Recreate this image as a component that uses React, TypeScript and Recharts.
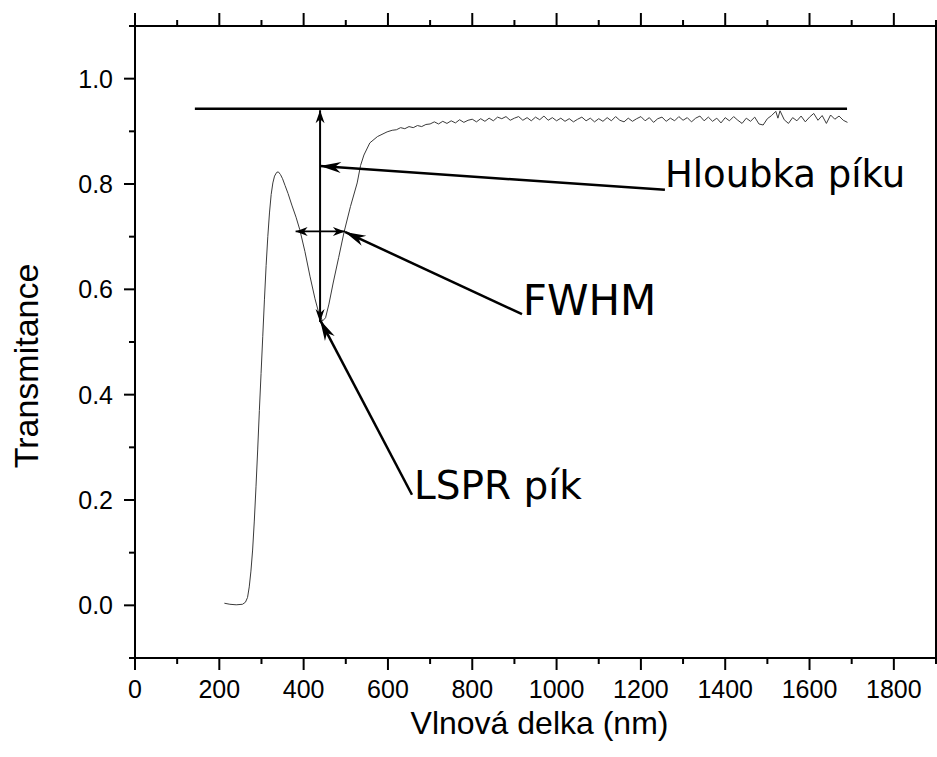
import React from 'react';
import { LineChart, Line, XAxis, YAxis, ReferenceLine, ReferenceDot } from 'recharts';

// Spectrum (wavelength nm, transmittance)
const wavelength = [
  212, 225, 240, 255, 262, 267, 271, 275, 279, 283, 287, 291, 295, 299, 303, 307, 311, 315, 319, 323,
  327, 331, 336, 340, 345, 350, 356, 363, 372, 382, 391, 403, 415, 427, 436, 445, 452, 460, 470, 483,
  496, 511, 527, 535, 543, 557, 575, 598, 610, 620, 630, 640, 650, 660, 670, 680, 690,
  700, 710, 720, 730, 740, 750, 760, 770, 780, 790, 800, 810, 820, 830, 840, 850, 860, 870, 880, 890,
  900, 910, 920, 930, 940, 950, 960, 970, 980, 990, 1000, 1010, 1020, 1030, 1040, 1050, 1060, 1070, 1080, 1090,
  1100, 1110, 1120, 1130, 1140, 1150, 1160, 1170, 1180, 1190, 1200, 1210, 1220, 1230, 1240, 1250, 1260, 1270, 1280, 1290,
  1300, 1310, 1320, 1330, 1340, 1350, 1360, 1370, 1380, 1390, 1400, 1410, 1420, 1430, 1440, 1450, 1460, 1470, 1480, 1490,
  1500, 1510, 1520, 1525, 1530, 1540, 1550, 1560, 1570, 1580, 1590, 1600, 1610, 1620, 1630, 1640, 1650, 1660, 1670, 1680, 1690,
];
const transmittance = [
  0.004, 0.002, 0.001, 0.002, 0.006, 0.015, 0.035, 0.065, 0.105, 0.16, 0.225, 0.295, 0.37, 0.44, 0.51, 0.58, 0.645, 0.70, 0.745, 0.78,
  0.802, 0.815, 0.822, 0.823, 0.818, 0.81, 0.797, 0.782, 0.760, 0.737, 0.713, 0.672, 0.625, 0.582, 0.555, 0.54, 0.546, 0.572, 0.612, 0.66,
  0.709, 0.757, 0.802, 0.835, 0.855, 0.878, 0.89, 0.899, 0.902, 0.903, 0.907, 0.905, 0.909, 0.907, 0.911, 0.909, 0.913,
  0.914, 0.918, 0.914, 0.919, 0.915, 0.920, 0.916, 0.922, 0.917, 0.921, 0.923, 0.918, 0.924, 0.919, 0.925, 0.920, 0.927, 0.924, 0.928, 0.921,
  0.925, 0.928, 0.921, 0.926, 0.920, 0.927, 0.922, 0.929, 0.921, 0.926, 0.920, 0.925, 0.919, 0.924, 0.918, 0.923, 0.927, 0.920, 0.925, 0.918,
  0.924, 0.919, 0.926, 0.920, 0.928, 0.921, 0.918, 0.925, 0.919, 0.924, 0.928, 0.920, 0.926, 0.917, 0.924, 0.927, 0.919, 0.925, 0.920, 0.928,
  0.921, 0.926, 0.918, 0.925, 0.929, 0.920, 0.927, 0.919, 0.925, 0.916, 0.926, 0.920, 0.928, 0.921, 0.915, 0.925, 0.919, 0.927, 0.914, 0.912,
  0.924, 0.930, 0.938, 0.925, 0.939, 0.922, 0.915, 0.926, 0.920, 0.929, 0.918, 0.927, 0.934, 0.921, 0.930, 0.915, 0.931, 0.923, 0.929, 0.921, 0.917,
];

const xTicks = [0, 100, 200, 300, 400, 500, 600, 700, 800, 900, 1000, 1100, 1200, 1300, 1400, 1500, 1600, 1700, 1800, 1900];
const yTicks = [-0.1, 0, 0.1, 0.2, 0.3, 0.4, 0.5, 0.6, 0.7, 0.8, 0.9, 1.0, 1.1];

const xTitle = 'Vlnová delka (nm)';
const yTitle = 'Transmitance';

// Annotation anchors in data units
const baselineLevel = 0.943;
const baselineFrom = 142;
const baselineTo = 1689;
const peakX = 439;
const peakTop = 0.94;
const peakBottom = 0.538;
const fwhmLevel = 0.71;
const fwhmFrom = 381;
const fwhmTo = 498;

const annotations = [
  { text: 'Hloubka píku', tx: 1257, ty: 0.794, fromX: 1257, fromY: 0.789, toX: 439, toY: 0.834, size: 37 },
  { text: 'FWHM', tx: 920, ty: 0.551, fromX: 918, fromY: 0.553, toX: 498, toY: 0.709, size: 42 },
  { text: 'LSPR pík', tx: 662, ty: 0.202, fromX: 657, fromY: 0.21, toX: 439, toY: 0.542, size: 39 },
];

const data = wavelength.map((w, i) => ({ w, t: transmittance[i] }));

const TICK_FONT = 'Liberation Sans, Arial, sans-serif';
const ANN_FONT = 'DejaVu Sans, Verdana, sans-serif';

function head(tx: number, ty: number, fx: number, fy: number, len: number, half: number) {
  const dx = tx - fx;
  const dy = ty - fy;
  const d = Math.sqrt(dx * dx + dy * dy) || 1;
  const ux = dx / d;
  const uy = dy / d;
  const bx = tx - ux * len;
  const by = ty - uy * len;
  const nx = bx + ux * len * 0.3;
  const ny = by + uy * len * 0.3;
  const px = -uy;
  const py = ux;
  return `${tx},${ty} ${bx + px * half},${by + py * half} ${nx},${ny} ${bx - px * half},${by - py * half}`;
}

const makeArrow = (both: boolean, len: number, half: number, width: number) => (p: any) => {
  const { x1, y1, x2, y2 } = p;
  if ([x1, y1, x2, y2].some((v) => typeof v !== 'number' || isNaN(v))) return <g />;
  return (
    <g>
      <line x1={x1} y1={y1} x2={x2} y2={y2} stroke="#000" strokeWidth={width} />
      <polygon points={head(x2, y2, x1, y1, len, half)} fill="#000" />
      {both && <polygon points={head(x1, y1, x2, y2, len, half)} fill="#000" />}
    </g>
  );
};

const BottomTick = (props: any) => {
  const { x, y, payload } = props;
  const major = payload.value % 200 === 0;
  return (
    <g>
      <line x1={x} y1={y} x2={x} y2={y + (major ? 12 : 6)} stroke="#000" strokeWidth={2} />
      {major && (
        <text x={x} y={y + 40} textAnchor="middle" fontFamily={TICK_FONT} fontSize={25} fill="#000">
          {payload.value}
        </text>
      )}
    </g>
  );
};

const TopTick = (props: any) => {
  const { x, y, payload } = props;
  const major = payload.value % 200 === 0;
  return <line x1={x} y1={y} x2={x} y2={y - (major ? 13 : 6)} stroke="#000" strokeWidth={2} />;
};

const LeftTick = (props: any) => {
  const { x, y, payload } = props;
  const tenths = Math.round(payload.value * 10);
  const major = tenths % 2 === 0 && tenths >= 0 && tenths <= 10;
  return (
    <g>
      <line x1={x} y1={y} x2={x - (major ? 11 : 6)} y2={y} stroke="#000" strokeWidth={2} />
      {major && (
        <text x={x - 22} y={y} dy={9} textAnchor="end" fontFamily={TICK_FONT} fontSize={25} fill="#000">
          {(tenths / 10).toFixed(1)}
        </text>
      )}
    </g>
  );
};

const XTitle = (p: any) => {
  const vb = p && p.viewBox ? p.viewBox : { x: 135, y: 658, width: 801, height: 99 };
  return (
    <text x={vb.x + vb.width / 2 + 4} y={vb.y + 76} textAnchor="middle" fontFamily={TICK_FONT} fontSize={32} fill="#000">
      {xTitle}
    </text>
  );
};

const YTitle = (p: any) => {
  const vb = p && p.viewBox ? p.viewBox : { x: 0, y: 26, width: 135, height: 632 };
  const cx = vb.x + 38;
  const cy = vb.y + vb.height / 2 + 24;
  return (
    <text x={cx} y={cy} transform={`rotate(-90, ${cx}, ${cy})`} textAnchor="middle" fontFamily={TICK_FONT} fontSize={34} fill="#000">
      {yTitle}
    </text>
  );
};

export default function App() {
  return (
    <div style={{ position: 'absolute', left: 0, top: 0, width: 937, height: 757, background: '#fff' }}>
      <LineChart width={937} height={757} data={data} margin={{ top: 0, right: 0, bottom: 0, left: 0 }}>
        <XAxis
          dataKey="w"
          type="number"
          domain={[0, 1900]}
          ticks={xTicks}
          interval={0}
          height={99}
          tickSize={0}
          tickMargin={0}
          tickLine={false}
          tick={<BottomTick />}
          axisLine={{ stroke: '#000', strokeWidth: 2 }}
          allowDataOverflow
          label={{ content: XTitle }}
        />
        <XAxis
          xAxisId="top"
          orientation="top"
          dataKey="w"
          type="number"
          domain={[0, 1900]}
          ticks={xTicks}
          interval={0}
          height={26}
          tickSize={0}
          tickMargin={0}
          tickLine={false}
          tick={<TopTick />}
          axisLine={{ stroke: '#000', strokeWidth: 2 }}
          allowDataOverflow
        />
        <YAxis
          type="number"
          domain={[-0.1, 1.1]}
          ticks={yTicks}
          interval={0}
          width={135}
          tickSize={0}
          tickMargin={0}
          tickLine={false}
          tick={<LeftTick />}
          axisLine={{ stroke: '#000', strokeWidth: 2 }}
          allowDataOverflow
          label={{ content: YTitle }}
        />
        <YAxis
          yAxisId="right"
          orientation="right"
          type="number"
          domain={[-0.1, 1.1]}
          width={1}
          tick={false}
          tickLine={false}
          axisLine={{ stroke: '#000', strokeWidth: 2 }}
        />
        <Line
          type="linear"
          dataKey="t"
          stroke="#3a3a3a"
          strokeWidth={1}
          dot={false}
          activeDot={false}
          isAnimationActive={false}
        />
        <ReferenceLine
          segment={[{ x: baselineFrom, y: baselineLevel }, { x: baselineTo, y: baselineLevel }]}
          stroke="#000"
          strokeWidth={2.5}
        />
        <ReferenceLine
          segment={[{ x: peakX, y: peakBottom }, { x: peakX, y: peakTop }]}
          shape={makeArrow(true, 13, 4.5, 2)}
        />
        <ReferenceLine
          segment={[{ x: fwhmFrom, y: fwhmLevel }, { x: fwhmTo, y: fwhmLevel }]}
          shape={makeArrow(true, 12, 4.5, 1.6)}
        />
        {annotations.map((a) => (
          <ReferenceLine
            key={a.text + '-arrow'}
            segment={[{ x: a.fromX, y: a.fromY }, { x: a.toX, y: a.toY }]}
            shape={makeArrow(false, 21, 5.5, 2.5)}
          />
        ))}
        {annotations.map((a) => (
          <ReferenceDot
            key={a.text}
            x={a.tx}
            y={a.ty}
            r={0}
            shape={(p: any) => (
              <text x={p.cx} y={p.cy} textAnchor="start" fontFamily={ANN_FONT} fontSize={a.size} fill="#000">
                {a.text}
              </text>
            )}
          />
        ))}
      </LineChart>
    </div>
  );
}
